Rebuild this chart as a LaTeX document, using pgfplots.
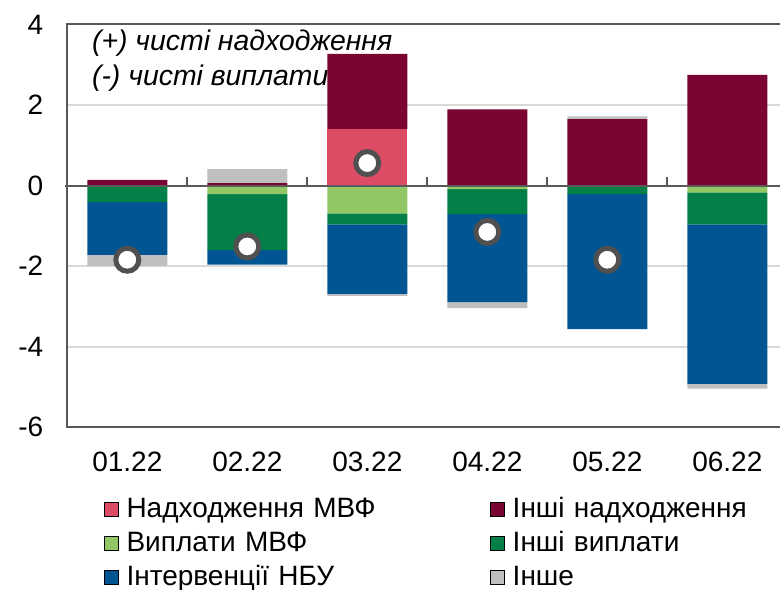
\documentclass[border=0pt]{standalone}
\usepackage{pgfplots}
\pgfplotsset{compat=1.18}
\usepackage{fontspec}
\setmainfont{Liberation Sans}

\definecolor{imfin}{HTML}{DC4D65}
\definecolor{othin}{HTML}{7A0532}
\definecolor{imfout}{HTML}{92C765}
\definecolor{othout}{HTML}{057F48}
\definecolor{nbu}{HTML}{005592}
\definecolor{othr}{HTML}{BFBFBF}
\definecolor{framec}{HTML}{595959}
\definecolor{gridc}{HTML}{D9D9D9}
\definecolor{dotc}{HTML}{505050}

\newcommand{\fs}{\fontsize{14}{16.8}\selectfont}
\newcommand{\fa}{\fontsize{14.2}{17}\selectfont}

\pgfplotstableread{
x imfin othin othpos
0 0    0.14 0
1 0    0.06 0.35
2 1.40 1.87 0
3 0    1.89 0
4 0    1.65 0.07
5 0    2.75 0
}\pos

\pgfplotstableread{
x imfout othout nbu othneg
0 0     -0.41 -1.31 -0.27
1 -0.21 -1.39 -0.36 0
2 -0.69 -0.27 -1.73 -0.05
3 -0.09 -0.62 -2.18 -0.15
4 0     -0.21 -3.35 0
5 -0.17 -0.79 -3.96 -0.12
}\negt

\pgfplotsset{base/.style={scale only axis, width=360pt, height=201.4pt,
  xmin=-0.5, xmax=5.5, ymin=-6, ymax=4, at={(0,0)}, anchor=south west}}

\begin{document}
\begin{tikzpicture}
\path[use as bounding box] (-33.65pt,-80.85pt) rectangle (356.35pt,213.65pt);

\begin{axis}[base,
  axis line style={draw=framec, line width=1pt},
  ytick={-6,-4,...,4}, xtick={0,...,5},
  xticklabels={01.22,02.22,03.22,04.22,05.22,06.22},
  major tick length=0pt,
  ymajorgrids, grid style={gridc, line width=0.8pt},
  tick label style={font=\fs}, /pgf/number format/assume math mode=true,
  yticklabel style={xshift=-8.5pt}, xticklabel style={yshift=-9pt},
  legend columns=2,
  legend image code/.code={\fill[#1] (0pt,-3.5pt) rectangle (7pt,3.5pt);},
  legend style={draw=none, fill=none, inner sep=0pt, outer sep=0pt,
    at={(axis description cs:0.051,-0.1738)}, anchor=north west,
    font=\fs, column sep=3.85pt, row sep=4.5pt,
    nodes={inner sep=0pt, text height=10pt, text depth=2.5pt, text width=178pt, align=left}},
  legend cell align=left,
]
\node[anchor=base west, font=\fa\itshape] at ([xshift=8.85pt, yshift=-12.8pt]rel axis cs:0,1) {(+) чисті надходження};
\node[anchor=base west, font=\fa\itshape] at ([xshift=8.85pt, yshift=-30.3pt]rel axis cs:0,1) {(-) чисті виплати};
\addlegendimage{fill=imfin}
\addlegendentry{Надходження МВФ}
\addlegendimage{fill=othin}
\addlegendentry{Інші надходження}
\addlegendimage{fill=imfout}
\addlegendentry{Виплати МВФ}
\addlegendimage{fill=othout}
\addlegendentry{Інші виплати}
\addlegendimage{fill=nbu}
\addlegendentry{Інтервенції НБУ}
\addlegendimage{fill=othr}
\addlegendentry{Інше}
\end{axis}

\begin{axis}[base, hide axis, ybar stacked, bar width=40pt]
\addplot[fill=imfin, draw=none] table[x=x, y=imfin] {\pos};
\addplot[fill=othin, draw=none] table[x=x, y=othin] {\pos};
\addplot[fill=othr, draw=none] table[x=x, y=othpos] {\pos};
\end{axis}

\begin{axis}[base, hide axis, ybar stacked, bar width=40pt]
\addplot[fill=imfout, draw=none] table[x=x, y=imfout] {\negt};
\addplot[fill=othout, draw=none] table[x=x, y=othout] {\negt};
\addplot[fill=nbu, draw=none] table[x=x, y=nbu] {\negt};
\addplot[fill=othr, draw=none] table[x=x, y=othneg] {\negt};
\end{axis}

\begin{axis}[base, hide axis, clip=false]
\draw[framec, line width=1pt] (axis cs:-0.52,0) -- (axis cs:5.5,0);
\draw[framec, line width=1pt] (axis cs:0.5,0) -- ([yshift=4.5pt]axis cs:0.5,0);
\draw[framec, line width=1pt] (axis cs:1.5,0) -- ([yshift=4.5pt]axis cs:1.5,0);
\draw[framec, line width=1pt] (axis cs:2.5,0) -- ([yshift=4.5pt]axis cs:2.5,0);
\draw[framec, line width=1pt] (axis cs:3.5,0) -- ([yshift=4.5pt]axis cs:3.5,0);
\draw[framec, line width=1pt] (axis cs:4.5,0) -- ([yshift=4.5pt]axis cs:4.5,0);
\addplot[only marks, mark=*, mark size=5.75pt, mark options={fill=white, draw=dotc, line width=2.5pt}]
  coordinates {(0,-1.84) (1,-1.51) (2,0.56) (3,-1.15) (4,-1.84)};
\end{axis}
\end{tikzpicture}
\end{document}
